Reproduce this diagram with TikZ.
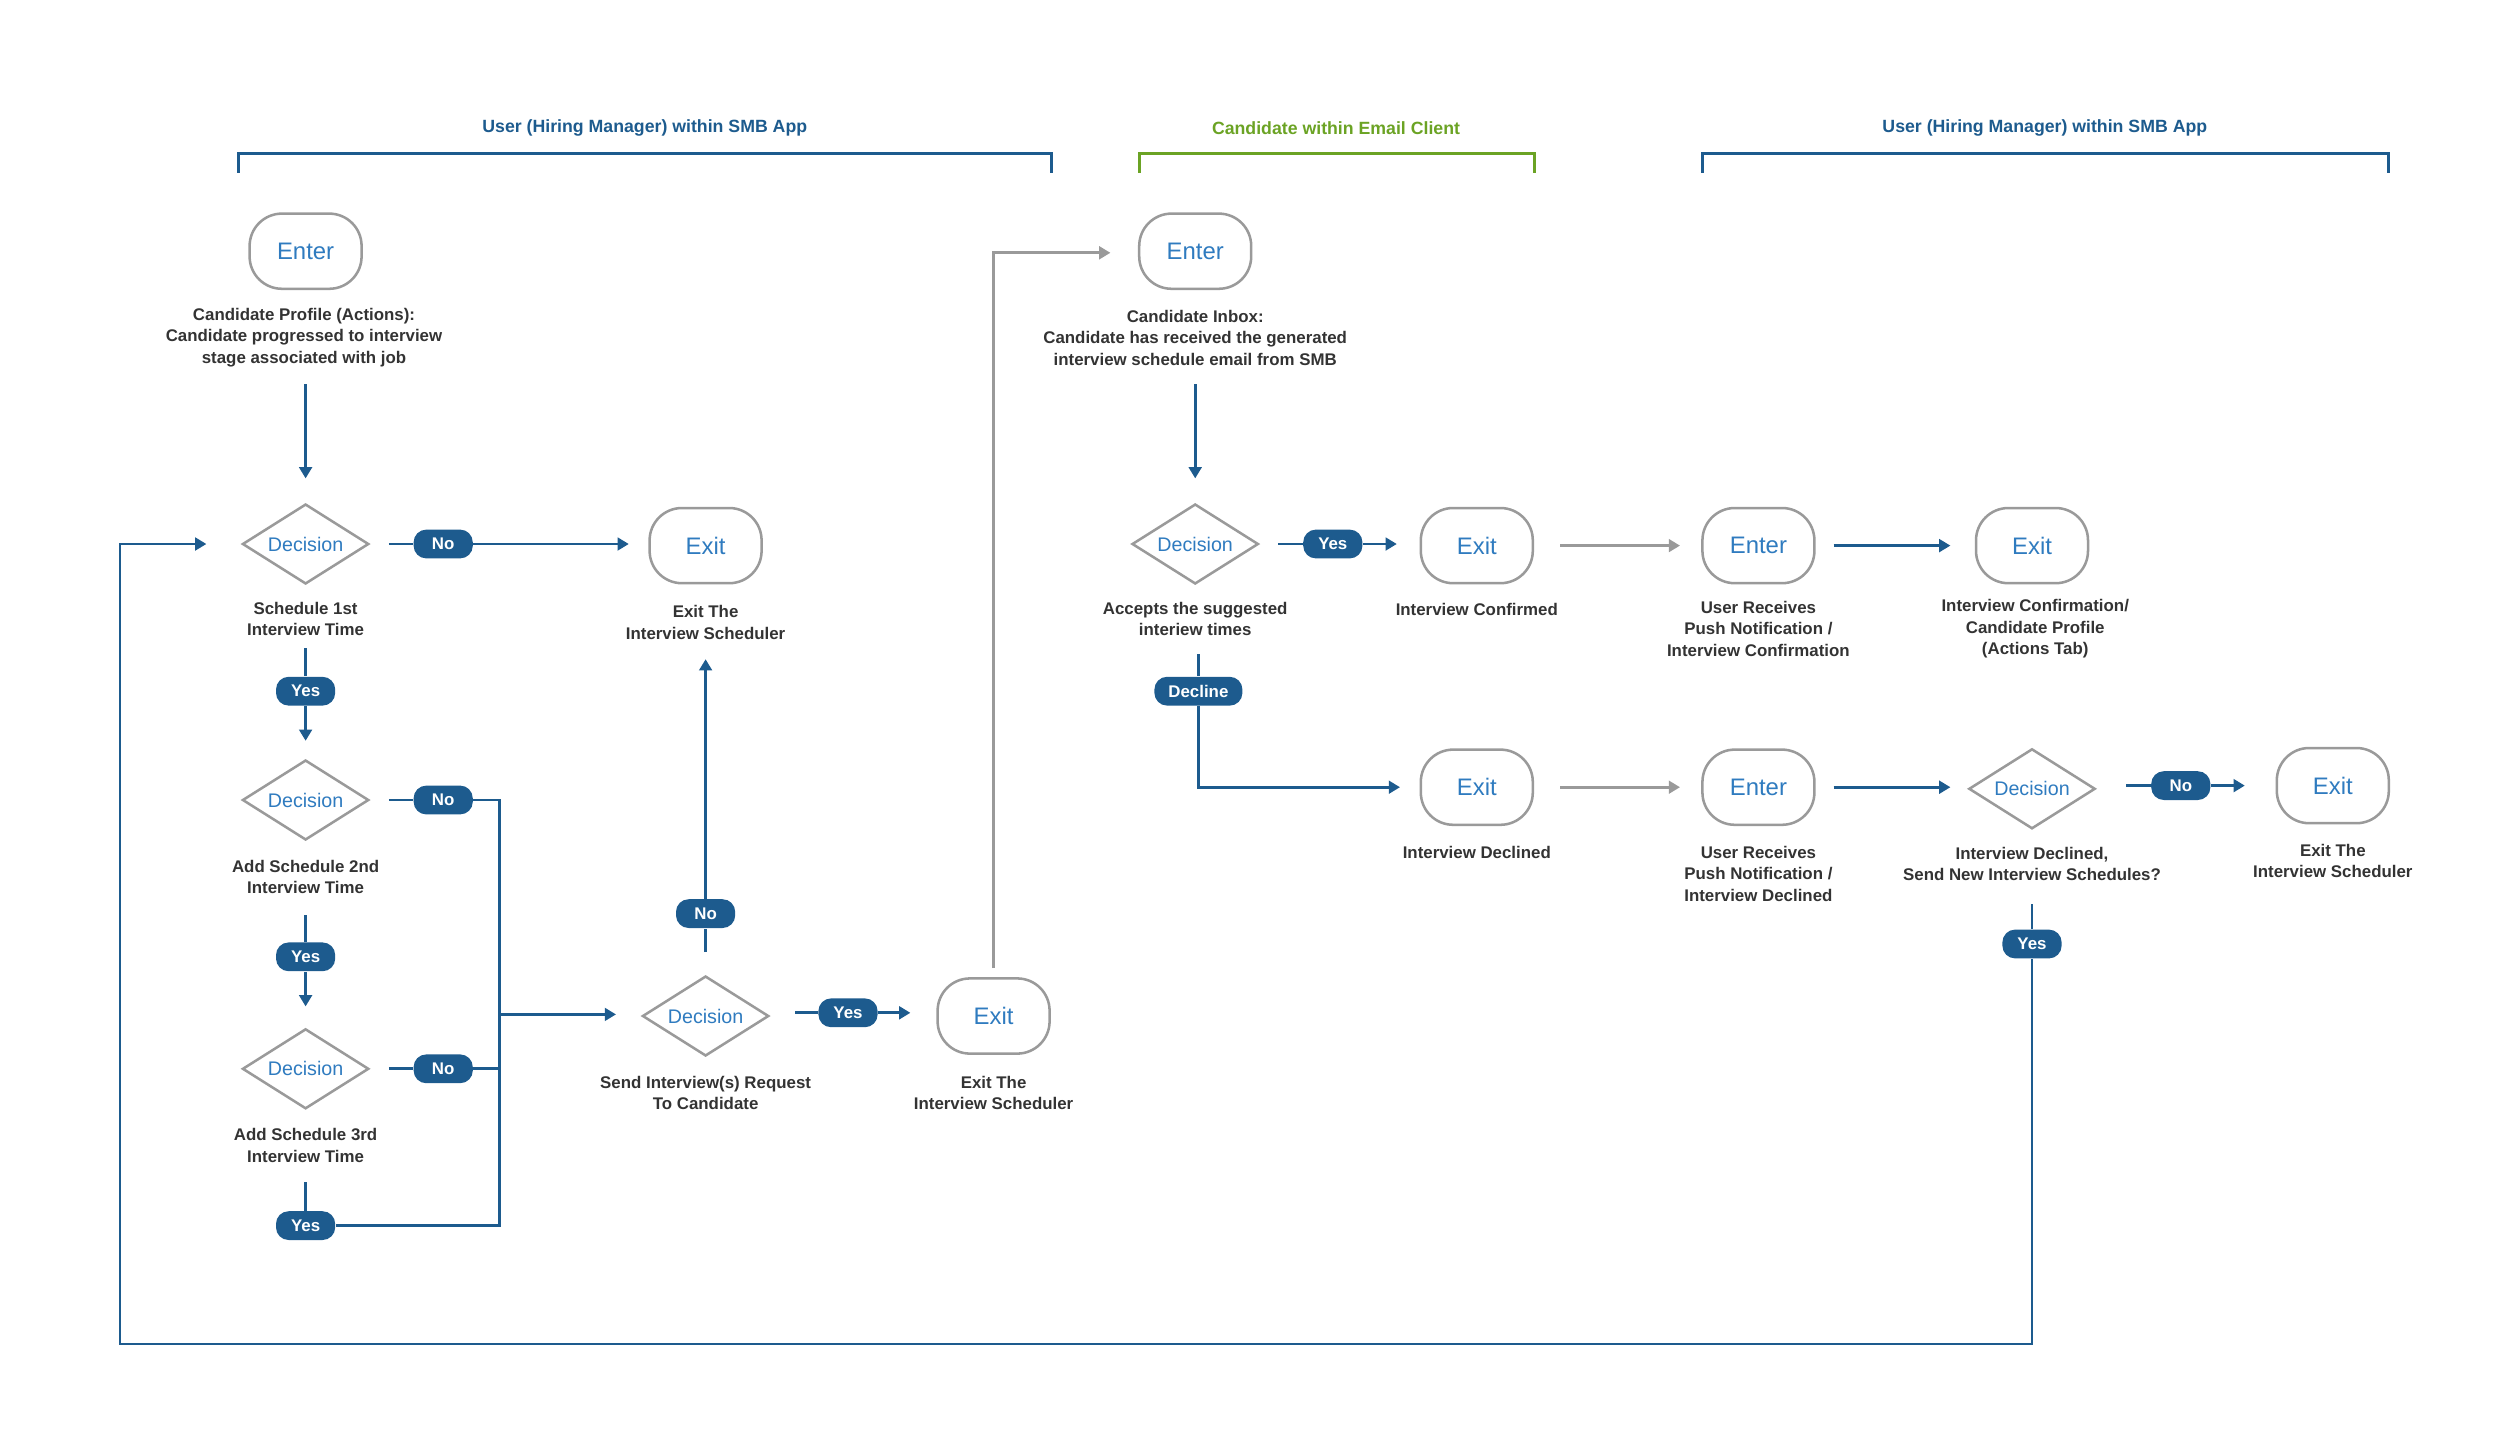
\documentclass[tikz,border=0pt]{standalone}
\usepackage{fontspec}
\setmainfont{Liberation Sans}
\usetikzlibrary{shapes.geometric,arrows.meta}
\definecolor{dblue}{HTML}{1D5B8E}
\definecolor{tblue}{HTML}{2F7BBF}
\definecolor{lgray}{HTML}{9A9A9A}
\definecolor{tgray}{HTML}{333333}
\definecolor{lgreen}{HTML}{6BA324}
\begin{document}
\begin{tikzpicture}[x=0.02cm,y=-0.02cm,
  term/.style={draw=lgray,line width=0.9pt,rounded corners=11.5pt,minimum width=1.4cm,minimum height=0.94cm,text=tblue,font=\fontsize{8.5}{10}\selectfont},
  dec/.style={draw=lgray,line width=0.9pt,diamond,aspect=1.56,minimum width=1.58cm,minimum height=1.0cm,inner sep=0pt,text=tblue,font=\fontsize{7}{8}\selectfont},
  pill/.style={fill=dblue,text=white,rounded corners=4.5pt,minimum width=0.74cm,minimum height=0.36cm,inner sep=1pt,font=\fontsize{6}{7}\selectfont\bfseries},
  lab/.style={align=center,text=tgray,font=\fontsize{6}{7.6}\selectfont\bfseries},
  hdr/.style={font=\fontsize{6.3}{7.5}\selectfont\bfseries},
  ln/.style={draw=dblue,line width=1pt},
  ar/.style={ln,-{Triangle[length=4pt,width=4.5pt]}},
  gar/.style={draw=lgray,line width=1pt,-{Triangle[length=4pt,width=4.5pt]}}]
\useasboundingbox (0,0) rectangle (1562.5,906.9);
% headers
\node[hdr,text=dblue] (h1) at (403,80) {User (Hiring Manager) within SMB App};
\node[hdr,text=lgreen] (h2) at (835,80) {Candidate within Email Client};
\node[hdr,text=dblue] (h3) at (1278,80) {User (Hiring Manager) within SMB App};
\draw[dblue,line width=1pt] (149,108) -- (149,96) -- (657,96) -- (657,108);
\draw[lgreen,line width=1pt] (712,108) -- (712,96) -- (959,96) -- (959,108);
\draw[dblue,line width=1pt] (1064,108) -- (1064,96) -- (1493,96) -- (1493,108);
% left column
\node[term] (en1) at (191,157) {Enter};
\node[lab] (en1l) at (190,211) {Candidate Profile (Actions):\\Candidate progressed to interview\\stage associated with job};
\node[dec] (d1) at (191,340) {Decision};
\node[lab] (d1l) at (191,387) {Schedule 1st\\Interview Time};
\node[pill] (n1) at (277,340) {No};
\node[term] (ex1) at (441,341) {Exit};
\node[lab] (ex1l) at (441,389) {Exit The\\Interview Scheduler};
\node[pill] (y1) at (191,432) {Yes};
\node[dec] (d2) at (191,500) {Decision};
\node[lab] (d2l) at (191,548) {Add Schedule 2nd\\Interview Time};
\node[pill] (n2) at (277,500) {No};
\node[pill] (y2) at (191,598) {Yes};
\node[dec] (d3) at (191,668) {Decision};
\node[lab] (d3l) at (191,716) {Add Schedule 3rd\\Interview Time};
\node[pill] (n3) at (277,668) {No};
\node[pill] (y3) at (191,766) {Yes};
\node[dec] (d4) at (441,635) {Decision};
\node[lab] (d4l) at (441,683) {Send Interview(s) Request\\To Candidate};
\node[pill] (n4) at (441,571) {No};
\node[pill] (y4) at (530,633) {Yes};
\node[term] (ex2) at (621,635) {Exit};
\node[lab] (ex2l) at (621,683) {Exit The\\Interview Scheduler};
\coordinate (a1) at (191,240); \coordinate (a2) at (191,299);
\draw[ar] (a1) -- (a2);
\coordinate (b1) at (243,340); \coordinate (b2) at (393,340);
\draw[ln] (b1) -- (n1); \draw[ar] (n1) -- (b2);
\coordinate (c1) at (191,405); \coordinate (c2) at (191,463);
\draw[ln] (c1) -- (y1); \draw[ar] (y1) -- (c2);
\coordinate (c3) at (191,572); \coordinate (c4) at (191,629);
\draw[ln] (c3) -- (y2); \draw[ar] (y2) -- (c4);
\coordinate (c5) at (191,739);
\draw[ln] (c5) -- (y3);
\coordinate (e1) at (243,500); \coordinate (e2) at (243,668);
\coordinate (bt) at (312,500); \coordinate (bb) at (312,766); \coordinate (bm) at (312,634); \coordinate (bm2) at (312,668);
\coordinate (bi) at (385,634);
\draw[ln] (e1) -- (n2) -- (bt) -- (bb) -- (y3);
\draw[ln] (e2) -- (n3) -- (bm2);
\draw[ar] (bm) -- (bi);
\coordinate (f1) at (441,595); \coordinate (f2) at (441,412);
\draw[ln] (f1) -- (n4); \draw[ar] (n4) -- (f2);
\coordinate (g1) at (497,633); \coordinate (g2) at (569,633);
\draw[ln] (g1) -- (y4); \draw[ar] (y4) -- (g2);
\coordinate (k1) at (621,605); \coordinate (k2) at (621,158); \coordinate (k3) at (694,158);
\draw[gar] (k1) -- (k2) -- (k3);
% middle
\node[term] (en2) at (747,157) {Enter};
\node[lab] (en2l) at (747,211) {Candidate Inbox:\\Candidate has received the generated\\interview schedule email from SMB};
\node[dec] (d5) at (747,340) {Decision};
\node[lab] (d5l) at (747,387) {Accepts the suggested\\interiew times};
\node[pill] (y5) at (833,340) {Yes};
\node[term] (ex3) at (923,341) {Exit};
\node[lab] (ex3l) at (923,381) {Interview Confirmed};
\node[term] (en3) at (1099,341) {Enter};
\node[lab] (en3l) at (1099,393) {User Receives\\Push Notification /\\Interview Confirmation};
\node[term] (ex4) at (1270,341) {Exit};
\node[lab] (ex4l) at (1272,393) {Interview Confirmation/\\Candidate Profile\\(Actions Tab)};
\node[pill,minimum width=1.1cm] (dc) at (749,432) {Decline};
\node[term] (ex5) at (923,492) {Exit};
\node[lab] (ex5l) at (923,533) {Interview Declined};
\node[term] (en4) at (1099,492) {Enter};
\node[lab] (en4l) at (1099,546) {User Receives\\Push Notification /\\Interview Declined};
\node[dec] (d6) at (1270,493) {Decision};
\node[lab] (d6l) at (1270,540) {Interview Declined,\\Send New Interview Schedules?};
\node[pill] (n6) at (1363,491) {No};
\node[term] (ex6) at (1458,491) {Exit};
\node[lab] (ex6l) at (1458,538) {Exit The\\Interview Scheduler};
\node[pill] (y6) at (1270,590) {Yes};
\coordinate (m1) at (747,240); \coordinate (m2) at (747,299);
\draw[ar] (m1) -- (m2);
\coordinate (p1) at (799,340); \coordinate (p2) at (873,340);
\draw[ln] (p1) -- (y5); \draw[ar] (y5) -- (p2);
\coordinate (q1) at (975,341); \coordinate (q2) at (1050,341);
\draw[gar] (q1) -- (q2);
\coordinate (r1) at (1146,341); \coordinate (r2) at (1219,341);
\draw[ar] (r1) -- (r2);
\coordinate (s1) at (749,409); \coordinate (s2) at (749,492); \coordinate (s3) at (875,492);
\draw[ln] (s1) -- (dc); \draw[ar] (dc) -- (s2) -- (s3);
\coordinate (t1) at (975,492); \coordinate (t2) at (1050,492);
\draw[gar] (t1) -- (t2);
\coordinate (u1) at (1146,492); \coordinate (u2) at (1219,492);
\draw[ar] (u1) -- (u2);
\coordinate (v1) at (1329,491); \coordinate (v2) at (1403,491);
\draw[ln] (v1) -- (n6); \draw[ar] (n6) -- (v2);
\coordinate (w1) at (1270,565); \coordinate (w2) at (1270,840); \coordinate (w3) at (75,840); \coordinate (w4) at (75,340); \coordinate (w5) at (129,340);
\draw[ln] (w1) -- (y6);
\draw[ar] (y6) -- (w2) -- (w3) -- (w4) -- (w5);
\end{tikzpicture}
\end{document}
